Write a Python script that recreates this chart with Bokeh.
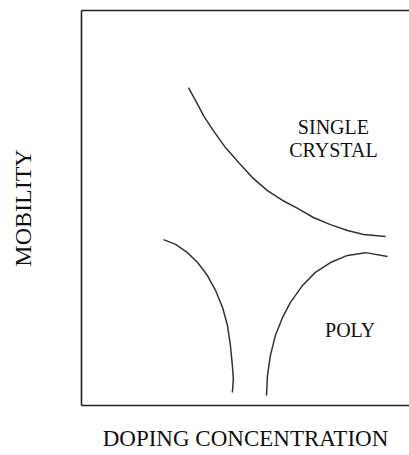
from bokeh.plotting import figure
from bokeh.models import Range1d, LinearAxis, FixedTicker, Label
from bokeh.embed import file_html
from bokeh.resources import INLINE

# Data (arbitrary units, 0-100 on both axes)
single_x = [32.6, 34.8, 37.2, 40.2, 43.9, 47.9, 52.1, 56.7, 61.3, 65.9, 70.7, 75.9, 81.1, 86.0, 92.7]
single_y = [80.5, 77.2, 73.4, 69.6, 65.3, 61.5, 57.7, 54.4, 51.9, 49.9, 47.6, 45.8, 44.3, 43.3, 42.8]

poly_left_x = [25.0, 28.7, 32.3, 35.4, 38.4, 40.9, 43.0, 44.5, 45.4, 46.0, 46.3, 46.0]
poly_left_y = [42.0, 40.8, 38.7, 36.2, 32.9, 29.1, 24.8, 20.3, 15.2, 10.1, 6.8, 3.3]

poly_right_x = [56.4, 56.7, 57.6, 59.1, 61.3, 63.7, 67.4, 71.3, 75.9, 81.1, 86.6, 93.3]
poly_right_y = [2.5, 7.6, 12.7, 17.7, 22.3, 26.1, 30.4, 33.7, 36.2, 38.0, 38.7, 37.7]

x_title = "DOPING CONCENTRATION"
y_title = "MOBILITY"
FONT = "Liberation Serif"
INK = "#222222"

p = figure(width=409, height=455, output_backend="svg", toolbar_location=None,
           x_range=Range1d(0, 100), y_range=Range1d(0, 100),
           x_axis_location=None, y_axis_location=None,
           min_border_left=81, min_border_top=10, min_border_bottom=50, min_border_right=0)
p.outline_line_color = None
p.grid.visible = False
p.background_fill_color = "white"
p.border_fill_color = "white"

def make_axis(label=None, standoff=0, size="22px"):
    ax = LinearAxis(ticker=FixedTicker(ticks=[]))
    ax.axis_line_color = INK
    ax.axis_line_width = 1.6
    ax.major_tick_line_color = None
    ax.minor_tick_line_color = None
    ax.major_tick_out = 0
    ax.major_tick_in = 0
    ax.minor_tick_out = 0
    ax.major_label_standoff = 0
    ax.major_label_text_font_size = "0px"
    if label:
        ax.axis_label = label
        ax.axis_label_text_font = FONT
        ax.axis_label_text_font_style = "normal"
        ax.axis_label_text_font_size = size
        ax.axis_label_text_color = "#111111"
        ax.axis_label_standoff = standoff
    return ax

p.add_layout(make_axis(y_title, 46, "24px"), "left")
p.add_layout(make_axis(x_title, 20, "23px"), "below")
p.add_layout(make_axis(), "above")

for xs, ys in [(single_x, single_y), (poly_left_x, poly_left_y), (poly_right_x, poly_right_y)]:
    p.line(xs, ys, line_color="#333333", line_width=1.5, line_join="round")

for txt, lx, ly in [("SINGLE", 76.8, 70.5), ("CRYSTAL", 76.8, 64.7), ("POLY", 81.9, 19.0)]:
    p.add_layout(Label(x=lx, y=ly, text=txt, text_font=FONT, text_font_size="20px",
                       text_color="#111111", text_align="center", text_baseline="middle"))

open("out.html", "w").write(file_html(p, INLINE))
